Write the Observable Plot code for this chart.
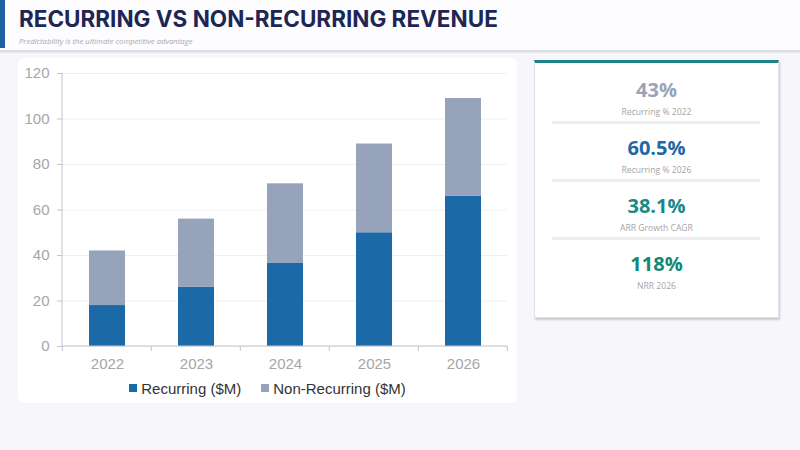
<!DOCTYPE html>
<html>
<head>
<meta charset="utf-8">
<script src="https://cdn.jsdelivr.net/npm/d3@7"></script>
<script src="https://cdn.jsdelivr.net/npm/@observablehq/plot@0.6"></script>
<style>
  html, body { margin: 0; padding: 0; }
  body { width: 800px; height: 450px; background: #f6f6fb; position: relative; overflow: hidden; font-family: "Liberation Sans", Arial, sans-serif; }
  #header { position: absolute; left: 0; top: 0; width: 800px; height: 50px; background: #fdfdff; }
  #accent { position: absolute; left: 0; top: 0; width: 5px; height: 48px; background: #1f5f9f; }
  #hline { position: absolute; left: 0; top: 50px; width: 800px; height: 3px; background: linear-gradient(#d6d8e0, #e9eaf0); }
  #title { position: absolute; left: 19px; top: 5px; font-family: Inter, sans-serif; font-weight: 700; font-size: 22.5px; color: #1e2656; white-space: nowrap; }
  #subtitle { position: absolute; left: 19px; top: 36px; font-family: "Open Sans", sans-serif; font-style: italic; font-size: 7.7px; color: #a8a8b0; white-space: nowrap; }
  #chartcard { position: absolute; left: 18px; top: 58px; width: 499px; height: 345px; background: #ffffff; border-radius: 6px; }
  #chart { position: absolute; left: 18px; top: 60px; }
  #legend { position: absolute; left: 18px; top: 378px; width: 499px; text-align: center; font-size: 15px; color: #333; white-space: nowrap; }
  .li { display: inline-flex; align-items: center; margin: 0 10px; }
  .sw { width: 8px; height: 8px; margin-right: 4px; display: inline-block; }
  #kpi { position: absolute; left: 534px; top: 60px; width: 245px; height: 258px; background: #fff; border: 1px solid #e2e3ea; border-top: 3px solid #1b8585; box-shadow: 1px 2px 2px rgba(0,0,0,0.18); box-sizing: border-box; }
  .kv { position: absolute; left: 0; width: 100%; text-align: center; font-family: "Open Sans", sans-serif; font-weight: 700; font-size: 20px; line-height: 24px; }
  .kl { position: absolute; left: 0; width: 100%; text-align: center; font-family: "Open Sans", sans-serif; font-size: 8.6px; line-height: 10px; color: #a4a4a8; }
  .ks { position: absolute; left: 17px; width: 208px; height: 3px; background: #ebebf0; }
</style>
</head>
<body>
<div id="header"></div>
<div id="accent"></div>
<div id="hline"></div>
<div id="title"></div>
<div id="subtitle"></div>
<div id="chartcard"></div>
<div id="chart"></div>
<div id="legend"></div>
<div id="kpi"></div>
<script>
const titleText = "RECURRING VS NON-RECURRING REVENUE";
const subtitleText = "Predictability is the ultimate competitive advantage";
const years = ["2022", "2023", "2024", "2025", "2026"];
const recurring = [18, 26, 36.5, 50, 66];
const nonRecurring = [24, 30, 35, 39, 43];
const seriesNames = ["Recurring ($M)", "Non-Recurring ($M)"];
const yTicks = [0, 20, 40, 60, 80, 100, 120];
const kpiValues = ["43%", "60.5%", "38.1%", "118%"];
const kpiLabels = ["Recurring % 2022", "Recurring % 2026", "ARR Growth CAGR", "NRR 2026"];

const seriesColors = ["#1b69a6", "#97a3bb"];
const kpiColors = ["#9aa3b9", "#1f68a5", "#1b8787", "#14896f"];
const xPaddingInner = 0.6;

document.getElementById("title").textContent = titleText;
document.getElementById("subtitle").textContent = subtitleText;

const rows = [];
years.forEach((y, i) => {
  rows.push({year: y, series: seriesNames[0], value: recurring[i]});
  rows.push({year: y, series: seriesNames[1], value: nonRecurring[i]});
});

const axisColor = "#c4c4c8";
const axisMark = (index, scales, values, dims) => {
  const g = d3.create("svg:g");
  const x = scales.x, y = scales.y;
  const step = x(years[1]) - x(years[0]);
  const bw = step * (1 - xPaddingInner);
  const off = (step - bw) / 2;
  const y0 = y(0), yTop = y(yTicks[yTicks.length - 1]);
  const left = dims.marginLeft, right = dims.width - dims.marginRight;
  g.append("line").attr("x1", left).attr("x2", right).attr("y1", y0).attr("y2", y0).attr("stroke", axisColor);
  g.append("line").attr("x1", left).attr("x2", left).attr("y1", yTop).attr("y2", y0).attr("stroke", axisColor);
  const bounds = years.map(v => x(v) - off);
  bounds.push(x(years[years.length - 1]) + bw + off);
  bounds.forEach(b => {
    g.append("line").attr("x1", b).attr("x2", b).attr("y1", y0).attr("y2", y0 + 5).attr("stroke", axisColor);
  });
  return g.node();
};

const chart = Plot.plot({
  width: 499,
  height: 320,
  marginLeft: 44,
  marginRight: 10,
  marginTop: 13,
  marginBottom: 34,
  style: {background: "transparent", fontFamily: "Liberation Sans, Arial, sans-serif", fontSize: "15px", color: "#a6a6a6"},
  x: {domain: years, paddingInner: xPaddingInner, paddingOuter: xPaddingInner / 2, label: null},
  y: {domain: [0, 120], ticks: yTicks, label: null},
  color: {domain: seriesNames, range: seriesColors},
  marks: [
    Plot.gridY(yTicks, {stroke: "#eef0f4", strokeOpacity: 1}),
    Plot.barY(rows, Plot.stackY({x: "year", y: "value", fill: "series", order: seriesNames})),
    Plot.axisX({tickSize: 0, tickPadding: 12, fill: "#a6a6a6", fontSize: 15}),
    Plot.axisY(yTicks, {tickSize: 5, tickPadding: 8, stroke: axisColor, fill: "#a6a6a6", fontSize: 15}),
    axisMark
  ]
});
document.getElementById("chart").appendChild(chart);

const legend = document.getElementById("legend");
seriesNames.forEach((s, i) => {
  const item = document.createElement("span");
  item.className = "li";
  const sw = document.createElement("span");
  sw.className = "sw";
  sw.style.background = seriesColors[i];
  item.appendChild(sw);
  item.appendChild(document.createTextNode(s));
  legend.appendChild(item);
});

const kpi = document.getElementById("kpi");
kpiValues.forEach((v, i) => {
  const top = 15 + i * 58;
  const val = document.createElement("div");
  val.className = "kv";
  val.style.top = top + "px";
  val.style.color = kpiColors[i];
  val.textContent = v;
  kpi.appendChild(val);
  const lab = document.createElement("div");
  lab.className = "kl";
  lab.style.top = (top + 29) + "px";
  lab.textContent = kpiLabels[i];
  kpi.appendChild(lab);
  if (i < kpiValues.length - 1) {
    const s = document.createElement("div");
    s.className = "ks";
    s.style.top = (top + 43) + "px";
    kpi.appendChild(s);
  }
});
</script>
</body>
</html>
